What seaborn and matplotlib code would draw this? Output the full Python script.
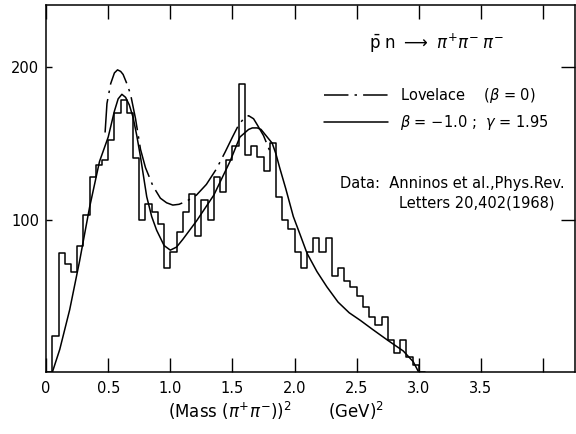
import numpy as np
import pandas as pd
import matplotlib
matplotlib.use("Agg")
import matplotlib.pyplot as plt
from matplotlib.lines import Line2D
import seaborn as sns

# ---------------- data ----------------
bin_width = 0.05
hist_counts = [0, 24, 78, 71, 66, 83, 103, 128, 136, 139, 152,
               170, 178, 170, 140, 100, 110, 105, 97, 68, 79,
               92, 105, 117, 89, 113, 100, 128, 118, 139, 148,
               189, 142, 148, 141, 132, 150, 115, 100, 94, 79,
               68, 79, 88, 79, 88, 63, 68, 60, 56, 50,
               43, 36, 31, 36, 21, 13, 21, 10, 5, 0]

solid_x = [0.05, 0.11, 0.19, 0.27, 0.35, 0.43, 0.50, 0.55, 0.58, 0.61, 0.64, 0.67,
           0.70, 0.73, 0.76, 0.81, 0.85, 0.89, 0.95, 1.00, 1.05, 1.10, 1.21, 1.35,
           1.48, 1.56, 1.63, 1.66, 1.70, 1.73, 1.77, 1.82, 1.85, 1.88, 1.93, 1.99,
           2.05, 2.10, 2.18, 2.26, 2.35, 2.44, 2.53, 2.63, 2.75, 2.875, 2.955, 3.0]
solid_y = [0, 15, 41, 73, 108, 138, 154, 171, 179, 182, 180, 175,
           167, 155, 141, 115, 102, 93, 83, 80, 82, 87, 99, 116,
           138, 154, 159, 160, 160, 159, 155, 150, 143, 134, 120, 102,
           89, 78, 66, 56, 46, 39, 34, 28, 21, 14, 7, 0]

lovelace_x = [0.475, 0.49, 0.52, 0.55, 0.575, 0.60, 0.62, 0.65, 0.68, 0.72, 0.76,
              0.80, 0.86, 0.92, 0.97, 1.02, 1.07, 1.13, 1.21, 1.29, 1.37, 1.44,
              1.50, 1.55, 1.59, 1.63, 1.67, 1.70, 1.75, 1.80]
lovelace_y = [157, 176, 189, 196, 198, 197, 195, 189, 182, 166, 146,
              134, 122, 114, 111, 109.5, 110, 112, 116, 123, 133, 144,
              154, 162, 166, 168, 166, 162, 155, 145]

xtick_vals = [0, 0.5, 1.0, 1.5, 2.0, 2.5, 3.0, 3.5, 4.0]
xtick_labels = ["0", "0.5", "1.0", "1.5", "2.0", "2.5", "3.0", "3.5", ""]
ytick_vals = [100, 200]
ytick_labels = ["100", "200"]

legend_labels = [r"Lovelace    ($\beta$ = 0)", r"$\beta$ = $-$1.0 ;  $\gamma$ = 1.95"]

# ---------------- plotting ----------------
sns.set_style("ticks")
plt.rcParams["font.family"] = ["DejaVu Sans"]
plt.rcParams["mathtext.fontset"] = "dejavusans"
plt.rcParams["text.color"] = "black"
plt.rcParams["axes.labelcolor"] = "black"

fig = plt.figure(figsize=(5.76, 4.34), dpi=100)
ax = fig.add_axes([0.080, 0.142, 0.918, 0.847])

edges = [round(i * bin_width, 3) for i in range(len(hist_counts) + 1)]
centers = [(edges[i] + edges[i + 1]) / 2 for i in range(len(hist_counts))]
df = pd.DataFrame({"m2": centers, "n": hist_counts})
sns.histplot(data=df, x="m2", weights="n", bins=edges, element="step",
             fill=False, color="black", linewidth=1.1, ax=ax)

curves = pd.DataFrame({"x": solid_x, "y": solid_y})
sns.lineplot(data=curves, x="x", y="y", color="black", linewidth=1.1,
             sort=False, estimator=None, ax=ax)
love = pd.DataFrame({"x": lovelace_x, "y": lovelace_y})
sns.lineplot(data=love, x="x", y="y", color="black", linewidth=1.1,
             sort=False, estimator=None, linestyle=(0, (22, 4, 1.6, 4)), ax=ax)

ax.set_xlim(0, 4.256)
ax.set_ylim(0, 240.6)
ax.set_xticks(xtick_vals)
ax.set_xticklabels(xtick_labels)
ax.set_yticks(ytick_vals)
ax.set_yticklabels(ytick_labels)
ax.tick_params(direction="in", length=10, width=1.0, top=True, right=True,
               labelsize=10.5, colors="black")
ax.tick_params(axis="x", pad=6)
ax.tick_params(axis="y", pad=5)
for t in ax.yaxis.get_major_ticks():
    t.tick1line.set_markersize(4.5)
for s in ax.spines.values():
    s.set_linewidth(1.1)
    s.set_color("black")

ax.set_ylabel("")
ax.set_xlabel(r"(Mass ($\pi^{+}\pi^{-}$))$^{2}$       (GeV)$^{2}$", fontsize=12,
              color="black")
ax.xaxis.set_label_coords(0.435, -0.075)

# reaction label
ax.text(0.739, 0.896, r"$\bar{\mathrm{p}}$ n $\longrightarrow$ $\pi^{+}\pi^{-}\;\pi^{-}$",
        transform=ax.transAxes, ha="center", va="center", fontsize=12, color="black")

# legend
handles = [Line2D([], [], color="black", linewidth=1.1, linestyle=(0, (16, 4, 1.6, 4))),
           Line2D([], [], color="black", linewidth=1.1)]
leg = ax.legend(handles, legend_labels, loc="upper left", bbox_to_anchor=(0.525, 0.778),
                frameon=False, handlelength=4.4, handletextpad=0.8, labelspacing=0.5,
                borderpad=0, borderaxespad=0, fontsize=10.5)
for txt in leg.get_texts():
    txt.set_color("black")

ax.text(0.556, 0.515, "Data:  Anninos et al.,Phys.Rev.", transform=ax.transAxes,
        ha="left", va="center", fontsize=10.5, color="black")
ax.text(0.667, 0.461, "Letters 20,402(1968)", transform=ax.transAxes,
        ha="left", va="center", fontsize=10.5, color="black")

fig.savefig("out.png", dpi=100)
